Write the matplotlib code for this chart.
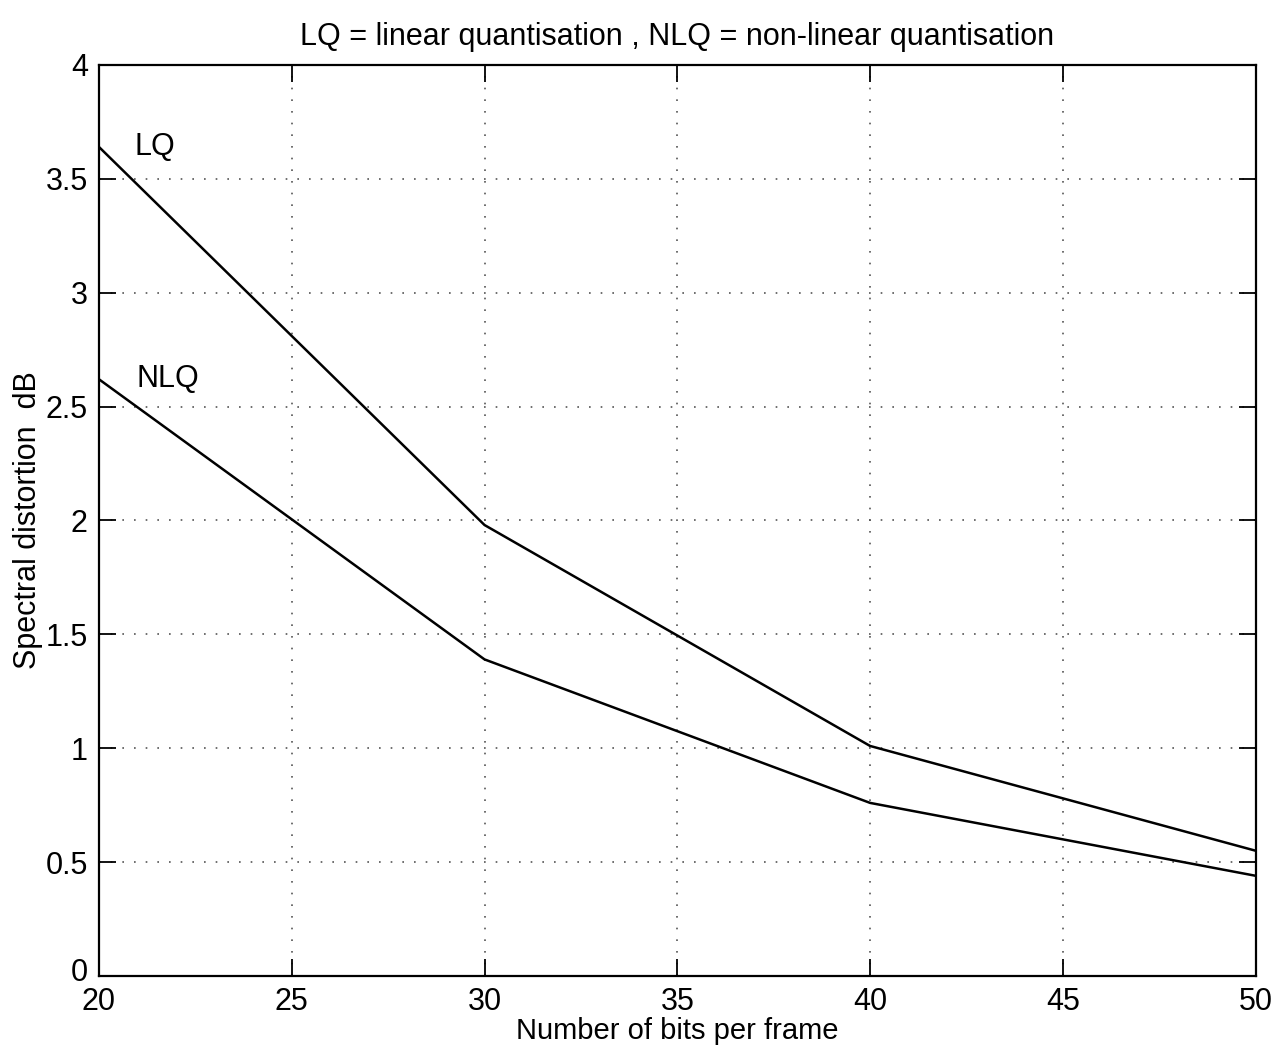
import numpy as np
import matplotlib
matplotlib.use('Agg')
import matplotlib.pyplot as plt
from matplotlib.transforms import ScaledTranslation

bits = [20, 30, 40, 50]
lq = [3.64, 1.98, 1.01, 0.55]
nlq = [2.62, 1.39, 0.76, 0.44]

xticks = [20, 25, 30, 35, 40, 45, 50]
yticks = [0, 0.5, 1, 1.5, 2, 2.5, 3, 3.5, 4]
ytick_labels = ['0', '0.5', '1', '1.5', '2', '2.5', '3', '3.5', '4']

plt.rcParams['font.family'] = ['Liberation Sans', 'DejaVu Sans']

fig = plt.figure(figsize=(12.8, 10.47), dpi=100)
ax = fig.add_axes([0.0773, 0.0678, 0.9037, 0.8702])

ax.plot(bits, lq, color='black', lw=1.8)
ax.plot(bits, nlq, color='black', lw=1.8)

ax.text(21.45, 3.64, 'LQ', fontsize=22, ha='center', va='center')
ax.text(21.8, 2.62, 'NLQ', fontsize=22, ha='center', va='center')

ax.set_xlim(20, 50)
ax.set_ylim(0, 4)
ax.set_xticks(xticks)
ax.set_yticks(yticks)
ax.set_yticklabels(ytick_labels)
ax.tick_params(direction='in', length=12, width=1.3, labelsize=22,
               top=True, right=True)
ax.tick_params(axis='y', pad=8)
ax.tick_params(axis='x', pad=8)
ax.grid(True, linestyle=(0, (1, 6)), color='#555555', lw=1.2)
for s in ax.spines.values():
    s.set_linewidth(1.6)

# the "0" sits just above the "20", as in MATLAB output
zero = ax.get_yticklabels()[0]
zero.set_transform(zero.get_transform() + ScaledTranslation(0, 5 / 72, fig.dpi_scale_trans))

ax.set_xlabel('Number of bits per frame', fontsize=21, labelpad=0)
ax.set_ylabel('Spectral distortion  dB', fontsize=22, labelpad=2)
ax.set_title('LQ = linear quantisation , NLQ = non-linear quantisation',
             fontsize=22, pad=14)

fig.savefig('out.png', dpi=100)
